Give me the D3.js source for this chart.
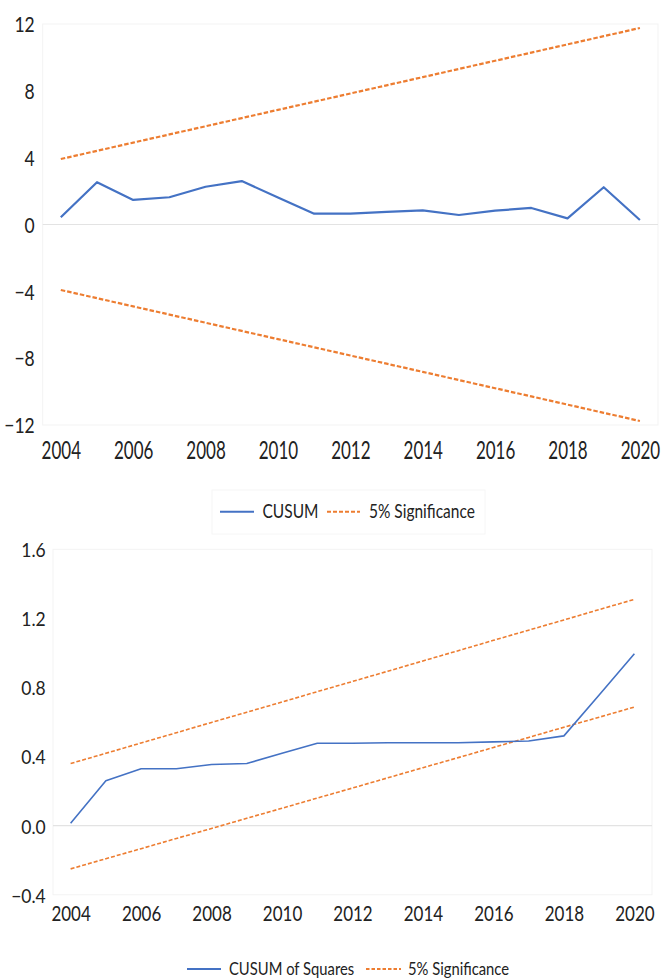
<!DOCTYPE html>
<html>
<head>
<meta charset="utf-8">
<script src="https://cdn.jsdelivr.net/npm/d3@7"></script>
<style>
  html, body { margin: 0; padding: 0; background: #fff; }
  svg { display: block; }
  text { font-family: Lato, "Liberation Sans", sans-serif; fill: #222; }
  .stretch { transform-box: fill-box; transform-origin: center; }
</style>
</head>
<body>
<svg id="chart" width="661" height="978"></svg>
<script>
// ---------- data ----------
const years = [2004, 2005, 2006, 2007, 2008, 2009, 2010, 2011, 2012, 2013, 2014, 2015, 2016, 2017, 2018, 2019, 2020];
const xTickLabels = [2004, 2006, 2008, 2010, 2012, 2014, 2016, 2018, 2020];

const cusum = [0.43, 2.53, 1.47, 1.63, 2.26, 2.6, 1.62, 0.65, 0.65, 0.75, 0.85, 0.57, 0.83, 0.99, 0.37, 2.23, 0.27];
const cusumUpper = [3.92, 4.41, 4.90, 5.39, 5.88, 6.37, 6.86, 7.35, 7.84, 8.33, 8.82, 9.31, 9.80, 10.29, 10.78, 11.27, 11.76];
const cusumLower = [-3.92, -4.41, -4.90, -5.39, -5.88, -6.37, -6.86, -7.35, -7.84, -8.33, -8.82, -9.31, -9.80, -10.29, -10.78, -11.27, -11.76];
const cusumYTicks = [-12, -8, -4, 0, 4, 8, 12];

const cusumSq = [0.014, 0.26, 0.33, 0.33, 0.354, 0.36, 0.42, 0.477, 0.477, 0.48, 0.48, 0.48, 0.485, 0.49, 0.52, 0.757, 0.995];
const sqUpper = [0.36, 0.419, 0.479, 0.538, 0.598, 0.657, 0.716, 0.776, 0.835, 0.894, 0.954, 1.013, 1.073, 1.132, 1.191, 1.251, 1.31];
const sqLower = [-0.25, -0.191, -0.133, -0.074, -0.016, 0.043, 0.101, 0.16, 0.218, 0.277, 0.336, 0.394, 0.453, 0.511, 0.57, 0.628, 0.687];
const sqYTicks = [-0.4, 0.0, 0.4, 0.8, 1.2, 1.6];

const legendTop = ["CUSUM", "5% Significance"];
const legendBottom = ["CUSUM of Squares", "5% Significance"];

// ---------- styles ----------
const BLUE = "#4472C4", ORANGE = "#ED7D31";
const svg = d3.select("#chart");

function panel(cfg) {
  const g = svg.append("g");
  const x = d3.scalePoint().domain(years).range([cfg.left, cfg.right]).padding(0.5);
  const y = d3.scaleLinear().domain(cfg.yDomain).range([cfg.bottom, cfg.top]);

  // plot area (faint border) and zero line
  g.append("rect")
    .attr("x", cfg.left).attr("y", cfg.top)
    .attr("width", cfg.right - cfg.left).attr("height", cfg.bottom - cfg.top)
    .attr("fill", "none").attr("stroke", "#f3f3f3").attr("stroke-width", 1);
  g.append("line")
    .attr("x1", cfg.left).attr("x2", cfg.right)
    .attr("y1", y(0)).attr("y2", y(0))
    .attr("stroke", "#e3e3e3").attr("stroke-width", 1.2);

  // y axis
  const ya = g.append("g").attr("transform", `translate(${cfg.left},0)`)
    .call(d3.axisLeft(y).tickValues(cfg.yTicks).tickSize(0).tickPadding(cfg.yPad).tickFormat(cfg.yFormat));
  ya.select(".domain").remove();
  ya.attr("font-family", null);
  ya.selectAll("text").attr("font-size", cfg.yFont)
    .attr("dy", "0.36em").attr("fill", "#222")
    .attr("class", "stretch").style("transform", `scaleY(${cfg.yStretch})`);

  // x axis
  const xa = g.append("g").attr("transform", `translate(0,${cfg.bottom})`)
    .call(d3.axisBottom(x).tickValues(xTickLabels).tickSize(0).tickFormat(d3.format("d")));
  xa.select(".domain").remove();
  xa.attr("font-family", null);
  xa.selectAll("text").attr("font-size", cfg.xFont)
    .attr("y", cfg.xLabelY - cfg.bottom).attr("dy", "0.36em").attr("fill", "#222")
    .attr("class", "stretch").style("transform", `scaleY(${cfg.xStretch})`);

  const line = vals => d3.line().x((d, i) => x(years[i])).y(d => y(d))(vals);

  cfg.series.forEach(s => {
    g.append("path").attr("d", line(s.values))
      .attr("fill", "none").attr("stroke", s.color).attr("stroke-width", s.width)
      .attr("stroke-dasharray", s.dash || null).attr("stroke-linejoin", "round");
  });

  // legend
  const lg = g.append("g");
  if (cfg.legendBox) {
    lg.append("rect").attr("x", cfg.legendBox[0]).attr("y", cfg.legendBox[1])
      .attr("width", cfg.legendBox[2]).attr("height", cfg.legendBox[3])
      .attr("fill", "none").attr("stroke", "#f6f6f6");
  }
  cfg.legend.forEach((it, i) => {
    lg.append("line").attr("x1", it.x1).attr("x2", it.x2)
      .attr("y1", cfg.legendY).attr("y2", cfg.legendY)
      .attr("stroke", it.color).attr("stroke-width", it.width)
      .attr("stroke-dasharray", it.dash || null);
    lg.append("text").attr("x", it.tx).attr("y", cfg.legendY).attr("dy", "0.36em")
      .attr("font-size", cfg.legendFont).text(it.label)
      .attr("class", "stretch").style("transform", `scaleY(${cfg.legendStretch})`);
  });
}

// Top: CUSUM
panel({
  left: 42.7, right: 658, top: 24, bottom: 425,
  yDomain: [-12, 12], yTicks: cusumYTicks, yFormat: d3.format("d"), yPad: 8, yFont: 17.5, yStretch: 1.2,
  xFont: 17, xLabelY: 450, xStretch: 1.45,
  series: [
    { values: cusumUpper, color: ORANGE, width: 2.2, dash: "4.5,2" },
    { values: cusumLower, color: ORANGE, width: 2.2, dash: "4.5,2" },
    { values: cusum, color: BLUE, width: 2.2 }
  ],
  legendY: 511.7, legendFont: 15.5, legendStretch: 1.2,
  legendBox: [212, 490, 273, 44],
  legend: [
    { label: legendTop[0], color: BLUE, width: 2, x1: 220, x2: 254, tx: 262.5 },
    { label: legendTop[1], color: ORANGE, width: 2, dash: "4,2", x1: 327, x2: 360, tx: 369 }
  ]
});

// Bottom: CUSUM of Squares
panel({
  left: 53, right: 652, top: 549.3, bottom: 894.8,
  yDomain: [-0.4, 1.6], yTicks: sqYTicks, yFormat: d3.format(".1f"), yPad: 7.3, yFont: 17.5, yStretch: 1.15,
  xFont: 17, xLabelY: 914, xStretch: 1.2,
  series: [
    { values: sqUpper, color: ORANGE, width: 1.6, dash: "4,2" },
    { values: sqLower, color: ORANGE, width: 1.6, dash: "4,2" },
    { values: cusumSq, color: BLUE, width: 1.6 }
  ],
  legendY: 969, legendFont: 14.8, legendStretch: 1.2,
  legend: [
    { label: legendBottom[0], color: BLUE, width: 1.8, x1: 187, x2: 221, tx: 229 },
    { label: legendBottom[1], color: ORANGE, width: 1.8, dash: "3.5,2", x1: 366, x2: 401, tx: 408 }
  ]
});
</script>
</body>
</html>
